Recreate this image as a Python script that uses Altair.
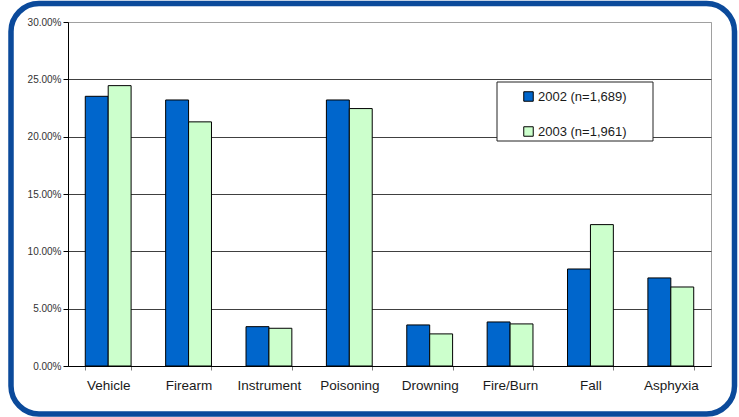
import altair as alt
import pandas as pd

# Share of deaths by cause, two survey years
categories = ["Vehicle", "Firearm", "Instrument", "Poisoning",
              "Drowning", "Fire/Burn", "Fall", "Asphyxia"]
series = ["2002 (n=1,689)", "2003 (n=1,961)"]
pct_2002 = [23.52, 23.20, 3.43, 23.20, 3.58, 3.84, 8.46, 7.68]
pct_2003 = [24.45, 21.29, 3.29, 22.45, 2.80, 3.67, 12.33, 6.89]
y_ticks = [0.0, 0.05, 0.10, 0.15, 0.20, 0.25, 0.30]

rows = []
for name, vals in zip(series, [pct_2002, pct_2003]):
    for cat, v in zip(categories, vals):
        rows.append({"cause": cat, "series": name, "value": v / 100})
df = pd.DataFrame(rows)

FONT = "Liberation Sans"

# White box that sits behind the legend entries
legend_box = alt.Chart(alt.Data(values=[{}])).mark_rect(
    fill="white", stroke="#222222", strokeWidth=1,
).encode(
    x=alt.value(429), x2=alt.value(585),
    y=alt.value(60), y2=alt.value(119),
)

bars = alt.Chart(df).mark_bar(stroke="black", strokeWidth=1).encode(
    x=alt.X(
        "cause:N", sort=categories,
        scale=alt.Scale(paddingInner=0.43, paddingOuter=0.215),
        axis=alt.Axis(
            title=None, labelAngle=0, tickBand="extent",
            domainColor="black", tickColor="#808080", tickSize=4,
            labelPadding=8, labelFontSize=13.5, labelFont=FONT,
            labelColor="#1a1a1a", grid=False,
        ),
    ),
    xOffset=alt.XOffset("series:N", sort=series),
    y=alt.Y(
        "value:Q",
        scale=alt.Scale(domain=[0, 0.3], nice=False),
        axis=alt.Axis(
            title=None, format=".2%", values=y_ticks,
            grid=True,
            gridColor=alt.condition("datum.value >= 0.3",
                                    alt.value("#a0a0a0"), alt.value("#404040")),
            domainColor="black", tickColor="black", tickSize=5,
            labelPadding=2, labelFontSize=10, labelFont=FONT,
            labelColor="#333333",
        ),
    ),
    color=alt.Color(
        "series:N",
        scale=alt.Scale(domain=series, range=["#0066CC", "#CCFFCC"]),
        legend=alt.Legend(
            title=None, orient="none", legendX=454, legendY=68,
            padding=0, labelOffset=3, rowPadding=20,
            symbolType="square", symbolSize=90,
            symbolStrokeColor="black", symbolStrokeWidth=1,
            labelFontSize=13, labelFont=FONT, labelColor="#1a1a1a",
        ),
    ),
)

# Rounded outer frame around the whole figure
frame = alt.Chart(alt.Data(values=[{}])).mark_rect(
    fillOpacity=0, stroke="#0B4A9B", strokeWidth=5.5, cornerRadius=28,
).encode(
    x=alt.value(-57), x2=alt.value(666.5),
    y=alt.value(-18.5), y2=alt.value(392),
)

chart = alt.layer(legend_box, bars, frame).properties(
    width=643, height=344,
    autosize=alt.AutoSizeParams(type="none"),
    padding={"left": 68, "top": 22, "right": 28, "bottom": 51},
    background="white",
).configure_view(stroke="#a0a0a0", strokeWidth=1)

chart.save("out.html", embed_options={"renderer": "svg", "actions": False})
